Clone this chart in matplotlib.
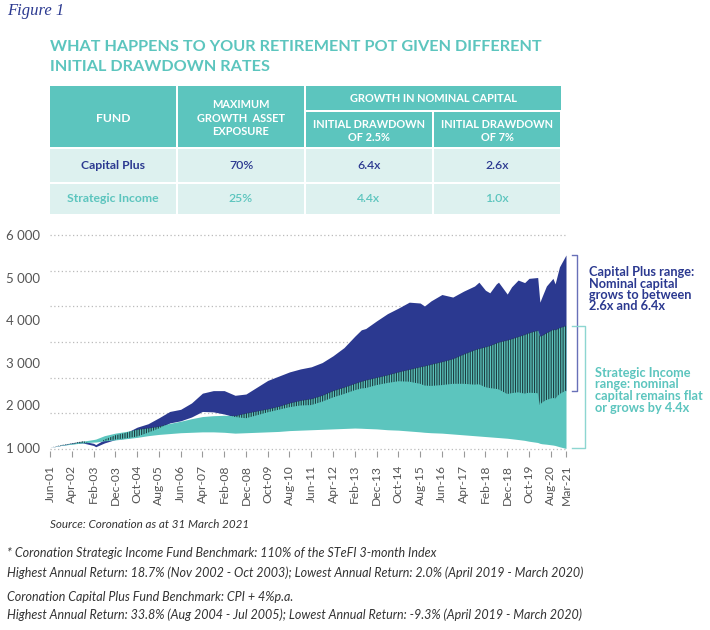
import matplotlib
matplotlib.use("Agg")
import matplotlib.pyplot as plt
from matplotlib.patches import Rectangle
import numpy as np

plt.rcParams['font.family'] = ['Lato', 'DejaVu Sans']
plt.rcParams['hatch.linewidth'] = 0.8

NAVY = '#2b3990'
TEAL = '#5cc5be'
LIGHT = '#ddf1ef'
GREY = '#555555'

# months since Jun-01
months = [0, 5, 10, 15, 20, 21, 25, 30, 35, 40, 45, 50, 55, 60, 65, 70, 75, 80, 85, 90,
          95, 100, 105, 110, 115, 120, 125, 130, 135, 140, 143, 145, 150, 155, 160, 165,
          170, 172, 175, 180, 185, 190, 195, 197, 200, 202, 205, 206, 210, 212, 215, 218,
          220, 224, 225, 226, 228, 231, 232, 234, 237]
# Capital Plus, 2.5% drawdown (top of range)
cp_hi = [1000, 1060, 1110, 1150, 1100, 1070, 1190, 1290, 1350, 1480, 1560, 1700, 1850, 1900,
         2050, 2280, 2340, 2340, 2230, 2260, 2420, 2580, 2680, 2780, 2850, 2900, 3000, 3160,
         3350, 3620, 3770, 3800, 3980, 4150, 4280, 4420, 4400, 4330, 4450, 4600, 4540, 4680,
         4800, 4890, 4700, 4640, 4850, 4890, 4610, 4780, 4940, 4880, 4980, 5000, 4420, 4550,
         4800, 4980, 4850, 5250, 5530]
# Capital Plus, 7% drawdown (bottom of range)
cp_lo = [1000, 1050, 1090, 1110, 1050, 1020, 1110, 1190, 1220, 1260, 1350, 1450, 1580, 1630,
         1720, 1850, 1840, 1790, 1720, 1690, 1760, 1830, 1890, 1950, 1990, 2000, 2080, 2180,
         2260, 2350, 2390, 2400, 2470, 2520, 2560, 2550, 2500, 2460, 2450, 2470, 2500, 2500,
         2480, 2490, 2420, 2400, 2380, 2370, 2260, 2280, 2300, 2270, 2290, 2280, 2000, 2060,
         2120, 2170, 2150, 2260, 2340]
# Strategic Income, 2.5% drawdown
si_hi = [1000, 1060, 1100, 1150, 1190, 1200, 1280, 1340, 1380, 1430, 1460, 1500, 1570, 1620,
         1680, 1730, 1750, 1760, 1750, 1810, 1860, 1910, 1970, 2050, 2110, 2150, 2230, 2340,
         2420, 2510, 2560, 2590, 2650, 2710, 2780, 2840, 2900, 2920, 2960, 3020, 3090, 3200,
         3300, 3330, 3370, 3400, 3460, 3480, 3530, 3560, 3610, 3660, 3700, 3760, 3620, 3640,
         3700, 3780, 3770, 3820, 3870]
# Strategic Income, 7% drawdown
si_lo = [1000, 1050, 1080, 1110, 1130, 1130, 1160, 1180, 1210, 1240, 1280, 1310, 1330, 1350,
         1360, 1370, 1370, 1360, 1340, 1350, 1360, 1370, 1380, 1400, 1410, 1420, 1430, 1440,
         1450, 1460, 1455, 1450, 1440, 1420, 1410, 1390, 1370, 1360, 1350, 1340, 1320, 1300,
         1280, 1272, 1260, 1252, 1240, 1236, 1220, 1208, 1190, 1170, 1150, 1120, 1100, 1090,
         1080, 1060, 1050, 1020, 980]

tick_months = [0, 10, 20, 30, 40, 50, 60, 70, 80, 90, 100, 110, 120, 130, 140, 150, 160,
               170, 180, 190, 200, 210, 220, 230, 237]
tick_labels = ['Jun-01', 'Apr-02', 'Feb-03', 'Dec-03', 'Oct-04', 'Aug-05', 'Jun-06',
               'Apr-07', 'Feb-08', 'Dec-08', 'Oct-09', 'Aug-10', 'Jun-11', 'Apr-12',
               'Feb-13', 'Dec-13', 'Oct-14', 'Aug-15', 'Jun-16', 'Apr-17', 'Feb-18',
               'Dec-18', 'Oct-19', 'Aug-20', 'Mar-21']
y_ticks = [1000, 2000, 3000, 4000, 5000, 6000]

title = 'WHAT HAPPENS TO YOUR RETIREMENT POT GIVEN DIFFERENT\nINITIAL DRAWDOWN RATES'
funds = ['Capital Plus', 'Strategic Income']
exposure = ['70%', '25%']
growth_25 = ['6.4x', '4.4x']
growth_7 = ['2.6x', '1.0x']

x = np.array(months)
cp_hi = np.array(cp_hi)
cp_lo = np.array(cp_lo)
si_hi = np.array(si_hi)
si_lo = np.array(si_lo)

fig = plt.figure(figsize=(7.1, 6.3), dpi=100)
ax = fig.add_axes([50 / 710, 1 - 451 / 630, 516 / 710, (451 - 233.7) / 630])

# dotted grid
for g in np.linspace(970, 6000, 7):
    ax.axhline(g, color='#bbbbbb', lw=0.9, ls=(0, (1, 2)), zorder=0)

ax.fill_between(x, cp_lo, cp_hi, color=NAVY, lw=0, zorder=2)
ax.fill_between(x, si_lo, si_hi, color=TEAL, lw=0, zorder=3)
# overlap of both ranges drawn hatched
ov_lo = np.maximum(cp_lo, si_lo)
ov_hi = np.minimum(cp_hi, si_hi)
ax.fill_between(x, ov_lo, ov_hi, where=ov_hi > ov_lo, interpolate=True,
                facecolor='none', edgecolor='#1d3c40', hatch='|' * 7, lw=0, zorder=4)

ax.set_xlim(0, 237)
ax.set_ylim(920, 6030)
ax.set_xticks(tick_months)
ax.set_xticklabels(tick_labels, rotation=90, fontsize=8.7, color=GREY)
ax.set_yticks(y_ticks)
ax.set_yticklabels([f'{v:,}'.replace(',', ' ') for v in y_ticks], fontsize=9.5, color=GREY)
ax.tick_params(axis='x', length=4, width=0.8, color='#999999', pad=6)
ax.tick_params(axis='y', length=0, pad=7)
for s in ax.spines.values():
    s.set_visible(False)

# range brackets at the right
tr = ax.get_yaxis_transform()
bx1, bx2, bx3 = 1.011, 1.022, 1.037
ax.plot([bx1, bx2, bx2, bx1], [cp_hi[-1], cp_hi[-1], cp_lo[-1], cp_lo[-1]],
        color='#6870b8', lw=1, transform=tr, clip_on=False)
ax.plot([bx1, bx3, bx3, bx1], [si_hi[-1], si_hi[-1], si_lo[-1], si_lo[-1]],
        color='#8dd6d1', lw=1, transform=tr, clip_on=False)

# overlay in pixel coords for texts and table
ov = fig.add_axes([0, 0, 1, 1], zorder=-1)
ov.set_xlim(0, 710)
ov.set_ylim(630, 0)
ov.axis('off')

ov.text(7, 11, 'Figure 1', family='Liberation Serif', style='italic', fontsize=12,
        color=NAVY, va='center')
ov.text(50, 57, title, fontsize=11.7, fontweight='bold', color=TEAL, va='center',
        linespacing=1.5)

# table
cols = [49, 177, 305, 433, 561]
rows = [86, 148, 182.5, 215]
gap = 1
for i in range(4):
    ov.add_patch(Rectangle((cols[i] + gap, rows[1] + gap), cols[i + 1] - cols[i] - 2 * gap,
                           rows[2] - rows[1] - 2 * gap, color=LIGHT, lw=0))
    ov.add_patch(Rectangle((cols[i] + gap, rows[2] + gap), cols[i + 1] - cols[i] - 2 * gap,
                           rows[3] - rows[2] - 2 * gap, color=LIGHT, lw=0))
for i in range(2):
    ov.add_patch(Rectangle((cols[i] + gap, rows[0]), cols[i + 1] - cols[i] - 2 * gap,
                           rows[1] - rows[0] - gap, color=TEAL, lw=0))
ov.add_patch(Rectangle((cols[2] + gap, rows[0]), cols[4] - cols[2] - gap, 111 - rows[0] - gap,
                       color=TEAL, lw=0))
for i in (2, 3):
    ov.add_patch(Rectangle((cols[i] + gap, 111 + gap), cols[i + 1] - cols[i] - 2 * gap,
                           rows[1] - 111 - 2 * gap, color=TEAL, lw=0))

hdr = dict(color='white', fontweight='bold', ha='center', va='center', fontsize=7.9,
           linespacing=1.25)
ov.text((cols[0] + cols[1]) / 2, 118, 'FUND', **dict(hdr, fontsize=8.7))
ov.text((cols[1] + cols[2]) / 2, 118, 'MAXIMUM\nGROWTH  ASSET\nEXPOSURE', **hdr)
ov.text((cols[2] + cols[4]) / 2, 99, 'GROWTH IN NOMINAL CAPITAL', **hdr)
ov.text((cols[2] + cols[3]) / 2, 131, 'INITIAL DRAWDOWN\nOF 2.5%', **hdr)
ov.text((cols[3] + cols[4]) / 2, 131, 'INITIAL DRAWDOWN\nOF 7%', **hdr)

for r, c in zip(range(2), [NAVY, TEAL]):
    yc = (rows[r + 1] + rows[r + 2]) / 2
    ov.text((cols[0] + cols[1]) / 2, yc, funds[r], color=c, fontweight='bold',
            fontsize=8.8, ha='center', va='center')
    for j, val in enumerate([exposure[r], growth_25[r], growth_7[r]]):
        ov.text((cols[j + 1] + cols[j + 2]) / 2, yc, val, color=c, fontweight='semibold',
                fontsize=8.8, ha='center', va='center')

# annotations
ov.text(589, 266, 'Capital Plus range:\nNominal capital\ngrows to between\n2.6x and 6.4x',
        color=NAVY, fontweight='bold', fontsize=9.2, va='top', linespacing=0.95)
ov.text(595, 367, 'Strategic Income\nrange: nominal\ncapital remains flat\nor grows by 4.4x',
        color=TEAL, fontweight='bold', fontsize=9.2, va='top', linespacing=0.95)

# footnotes
ov.text(50, 525, 'Source: Coronation as at 31 March 2021', style='italic', fontsize=8.4,
        color='#333333', va='center')
notes = ['* Coronation Strategic Income Fund Benchmark: 110% of the STeFI 3-month Index',
         'Highest Annual Return: 18.7% (Nov 2002 - Oct 2003); Lowest Annual Return: 2.0% (April 2019 - March 2020)',
         'Coronation Capital Plus Fund Benchmark: CPI + 4%p.a.',
         'Highest Annual Return: 33.8% (Aug 2004 - Jul 2005); Lowest Annual Return: -9.3% (April 2019 - March 2020)']
for yy, t in zip([553, 573, 597, 615], notes):
    ov.text(7, yy, t, style='italic', fontsize=9.0, color='#333333', va='center')

fig.savefig('out.png', dpi=100)
